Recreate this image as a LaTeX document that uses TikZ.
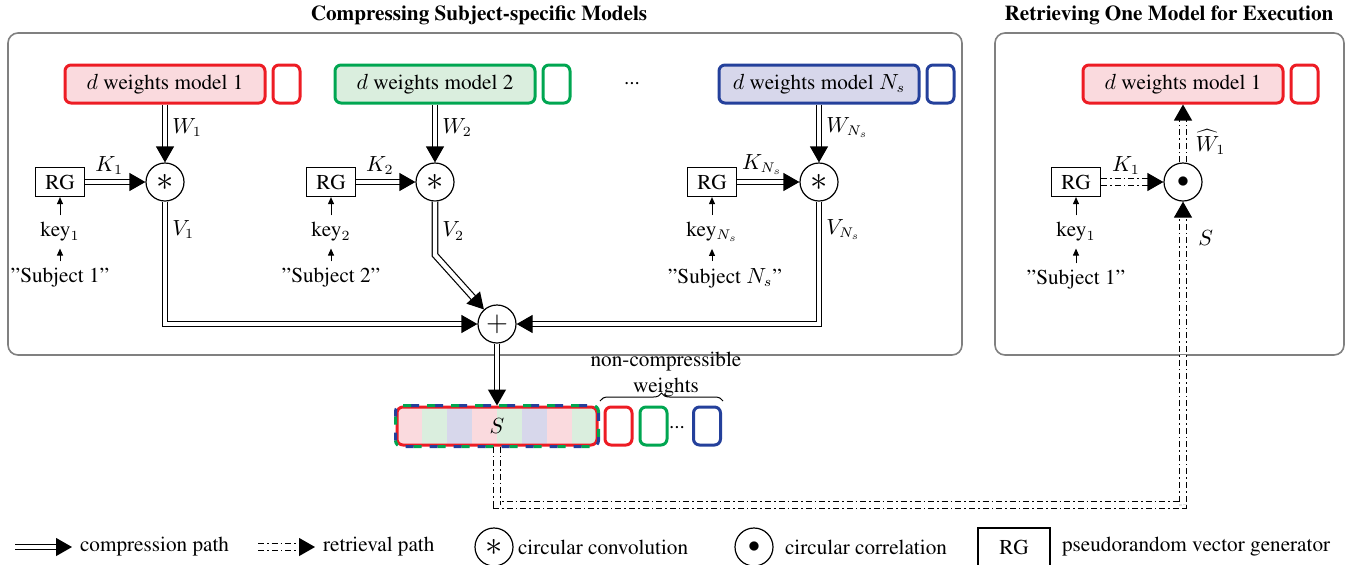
\documentclass[tikz,border=0pt]{standalone}
\usepackage[T1]{fontenc}
\usepackage{times}
\usetikzlibrary{arrows.meta,positioning,decorations.pathreplacing}
\definecolor{mred}{RGB}{237,28,36}
\definecolor{mredfill}{RGB}{250,218,222}
\definecolor{mgreen}{RGB}{0,166,81}
\definecolor{mgreenfill}{RGB}{218,238,222}
\definecolor{mblue}{RGB}{36,64,155}
\definecolor{mbluefill}{RGB}{215,215,235}
\definecolor{panelgray}{RGB}{128,128,128}
\newcommand{\dfont}{\fontsize{10.6}{13}\selectfont}
\begin{document}
\begin{tikzpicture}[x=0.5pt,y=-0.5pt,font=\dfont]
    \tikzstyle{panel}=[draw=panelgray, line width=0.8pt, rounded corners=5pt]
    \tikzstyle{model}=[rectangle, rounded corners=3pt, line width=1.5pt, minimum width=100pt, minimum height=19pt, inner sep=0pt]
    \tikzstyle{extra}=[rectangle, rounded corners=3pt, line width=1.5pt, minimum width=13.5pt, minimum height=19pt, inner sep=0pt, fill=white]
    \tikzstyle{op}=[circle, draw, line width=0.6pt, minimum size=19pt, inner sep=0pt]
    \tikzstyle{rg}=[rectangle, draw, line width=0.6pt, minimum width=24.5pt, minimum height=14.5pt, inner sep=0pt]
    \tikzstyle{comp}=[double, double distance=2.2pt, line width=0.6pt, -{Triangle[length=8pt,width=9pt]}]
    \tikzstyle{retr}=[comp, double distance=3pt, dash pattern=on 3pt off 1.5pt on 0.8pt off 1.5pt]
    \tikzstyle{keyarrow}=[line width=0.5pt, -{Triangle[length=3.5pt,width=3pt]}]

    \useasboundingbox (0,0) rectangle (1350,564);

    \draw[panel] (8,33) rectangle (962,355);
    \draw[panel] (995,33) rectangle (1344,355);
    \node[font=\dfont\bfseries] (t1) at (479,15) {Compressing Subject-specific Models};
    \node[font=\dfont\bfseries] (t2) at (1169,15) {Retrieving One Model for Execution};

    \node[model, draw=mred, fill=mredfill] (m1) at (165,84) {$d$ weights model 1};
    \node[extra, draw=mred, right=2.5pt of m1] (e1) {};
    \node[model, draw=mgreen, fill=mgreenfill] (m2) at (435,84) {$d$ weights model 2};
    \node[extra, draw=mgreen, right=2.5pt of m2] (e2) {};
    \node (mdots) at (632,84) {...};
    \node[model, draw=mblue, fill=mbluefill] (mN) at (819,84) {$d$ weights model $N_s$};
    \node[extra, draw=mblue, right=2.5pt of mN] (eN) {};

    \node[op] (c1) at (165,182) {\LARGE$\ast$};
    \node[op] (c2) at (435,182) {\LARGE$\ast$};
    \node[op] (cN) at (819,182) {\LARGE$\ast$};
    \node[op] (sum) at (497,324) {\Large$+$};

    \node[rg] (rg1) at (60,182) {RG};
    \node (k1) at (60,232) {key$_1$};
    \node (s1) at (60,278) {''Subject 1''};
    \node[rg] (rg2) at (331,182) {RG};
    \node (k2) at (331,232) {key$_2$};
    \node (s2) at (331,278) {''Subject 2''};
    \node[rg] (rgN) at (712,182) {RG};
    \node (kN) at (712,232) {key$_{N_s}$};
    \node (sN) at (725,278) {''Subject $N_s$''};

    \draw[keyarrow] (s1) -- (k1);
    \draw[keyarrow] (k1) -- (rg1);
    \draw[keyarrow] (s2) -- (k2);
    \draw[keyarrow] (k2) -- (rg2);
    \draw[keyarrow] (sN.north -| kN) -- (kN);
    \draw[keyarrow] (kN) -- (rgN);

    \draw[comp] (m1) -- node[right, pos=0.4] (w1) {$W_1$} (c1);
    \draw[comp] (m2) -- node[right, pos=0.4] (w2) {$W_2$} (c2);
    \draw[comp] (mN) -- node[right, pos=0.4] (wN) {$W_{N_s}$} (cN);
    \draw[comp] (rg1) -- node[above, pos=0.4] (kk1) {$K_1$} (c1);
    \draw[comp] (rg2) -- node[above, pos=0.4] (kk2) {$K_2$} (c2);
    \draw[comp] (rgN) -- node[above, pos=0.4] (kkN) {$K_{N_s}$} (cN);

    \draw[comp] (c1) -- node[right, pos=0.23] (v1) {$V_1$} (165,324) -- (sum);
    \draw[comp] (c2) -- node[right, pos=0.55] (v2) {$V_2$} (435,255) -- (sum);
    \draw[comp] (cN) -- node[right, pos=0.23] (vN) {$V_{N_s}$} (819,324) -- (sum);

    \begin{scope}
        \clip[rounded corners=3pt] (397,407) rectangle (597,445);
        \foreach \i/\c in {0/mredfill,1/mgreenfill,2/mbluefill,3/mredfill,4/mgreenfill,5/mbluefill,6/mredfill,7/mgreenfill}
            \fill[\c] ({397+25*\i},407) rectangle ({397+25*(\i+1)},445);
    \end{scope}
    \node[model, draw=mred] (S) at (497,426) {$S$};
    \draw[mblue, line width=1.5pt, rounded corners=3pt, dash pattern=on 4pt off 8pt] (S.south west) rectangle (S.north east);
    \draw[mgreen, line width=1.5pt, rounded corners=3pt, dash pattern=on 4pt off 8pt, dash phase=4pt] (S.south west) rectangle (S.north east);
    \node[extra, draw=mred, right=2.5pt of S] (n1) {};
    \node[extra, draw=mgreen, right=2.5pt of n1] (n2) {};
    \node (ndots) at (677,428) {...};
    \node[extra, draw=mblue] (n3) at (707,426) {};
    \coordinate (b1) at (600,401);
    \coordinate (b2) at (723,401);
    \draw[decorate, decoration={brace, amplitude=4pt}, line width=0.5pt] (b1) -- (b2);
    \node[align=center, inner sep=0pt] (nctext) at (666,375) {non-compressible\\weights};

    \draw[comp] (sum) -- (S);

    \node[model, draw=mred, fill=mredfill] (mR) at (1183,84) {$d$ weights model 1};
    \node[extra, draw=mred, right=2.5pt of mR] (eR) {};
    \node[op] (cR) at (1183,182) {\large$\bullet$};
    \node[rg] (rgR) at (1076,182) {RG};
    \node (kR) at (1076,232) {key$_1$};
    \node (sR) at (1076,280) {''Subject 1''};
    \draw[keyarrow] (sR) -- (kR);
    \draw[keyarrow] (kR) -- (rgR);
    \draw[retr] (rgR) -- node[above, pos=0.4] (kkR) {$K_1$} (cR);
    \draw[retr] (cR) -- node[right=5pt, pos=0.35, inner sep=1pt] (wR) {$\widehat{W}_1$} (mR);

    \coordinate (rc1) at (497,505);
    \coordinate (rc2) at (1183,505);
    \draw[retr] (S) -- (rc1) -- (rc2) -- node[right=4pt, pos=0.88] (sl) {$S$} (cR);

    \coordinate (lg1) at (15,547);
    \coordinate (lg2) at (72,547);
    \draw[comp] (lg1) -- (lg2);
    \node[anchor=west] (lgt1) at (73,547) {compression path};
    \coordinate (lg3) at (258,547);
    \coordinate (lg4) at (315,547);
    \draw[retr] (lg3) -- (lg4);
    \node[anchor=west] (lgt2) at (316,547) {retrieval path};
    \node[op] (lgc) at (494,547) {\LARGE$\ast$};
    \node[anchor=west] (lgt3) at (511,547) {circular convolution};
    \node[op] (lgr) at (754,547) {\large$\bullet$};
    \node[anchor=west] (lgt4) at (778,547) {circular correlation};
    \node[rg, minimum width=36pt, minimum height=19pt] (lgrg) at (1014,547) {RG};
    \node[anchor=west] (lgt5) at (1055,547) {pseudorandom vector generator};
\end{tikzpicture}
\end{document}
